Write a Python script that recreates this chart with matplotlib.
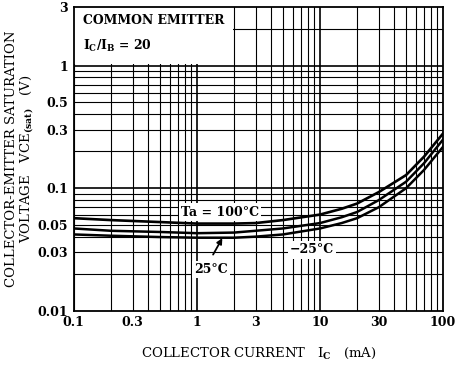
import matplotlib
matplotlib.use("Agg")
import matplotlib.pyplot as plt
from matplotlib.patches import Rectangle

# collector current (mA) and VCE(sat) (V)
ic = [0.1, 0.2, 0.5, 1, 2, 3, 5, 10, 15, 20, 30, 50, 70, 100]
vce_100 = [0.057, 0.055, 0.053, 0.0515, 0.0515, 0.052, 0.055, 0.061, 0.068, 0.075, 0.093, 0.128, 0.181, 0.28]
vce_25 = [0.047, 0.045, 0.044, 0.043, 0.0435, 0.045, 0.047, 0.052, 0.058, 0.064, 0.080, 0.113, 0.160, 0.25]
vce_m25 = [0.042, 0.041, 0.040, 0.0395, 0.0395, 0.0403, 0.042, 0.047, 0.052, 0.057, 0.070, 0.100, 0.141, 0.218]

x_ticks = [0.1, 0.3, 1, 3, 10, 30, 100]
x_labels = ['0.1', '0.3', '1', '3', '10', '30', '100']
y_ticks = [0.01, 0.03, 0.05, 0.1, 0.3, 0.5, 1, 3]
y_labels = ['0.01', '0.03', '0.05', '0.1', '0.3', '0.5', '1', '3']

plt.rcParams['font.family'] = ['DejaVu Serif']
plt.rcParams['font.weight'] = 'bold'
plt.rcParams['mathtext.fontset'] = 'custom'
plt.rcParams['mathtext.rm'] = 'DejaVu Serif:bold'
plt.rcParams['mathtext.it'] = 'DejaVu Serif:bold'

fig = plt.figure(figsize=(4.64, 3.71), dpi=100)
ax = fig.add_axes([0.159, 0.162, 0.796, 0.819])
ax.set_xscale('log')
ax.set_yscale('log')
ax.set_xlim(0.1, 100)
ax.set_ylim(0.01, 3)

# grid lines
xg = [m * 10.0 ** d for d in (-1, 0, 1) for m in range(1, 10)] + [100]
yg = [m * 10.0 ** d for d in (-2, -1) for m in range(1, 10)] + [1, 2]
for v in xg:
    lw = 1.2 if v in (1, 10) else 0.8
    ax.axvline(v, color='black', lw=lw, zorder=0.5)
for v in yg:
    lw = 1.2 if v in (0.1, 1) else 0.8
    ax.axhline(v, color='black', lw=lw, zorder=0.5)

# blank box for the conditions text
ax.add_patch(Rectangle((0.1, 1.03), 1.97 - 0.1, 3 - 1.03, facecolor='white',
                       edgecolor='none', zorder=1))
ax.text(0.118, 2.35, 'COMMON EMITTER', fontsize=8.9, va='center', ha='left', zorder=3)
ax.text(0.118, 1.45, r'I$_{\rm C}$/I$_{\rm B}$ = 20', fontsize=8.9, va='center', ha='left', zorder=3)

ax.plot(ic, vce_100, color='black', lw=1.9, zorder=2)
ax.plot(ic, vce_25, color='black', lw=1.8, zorder=2)
ax.plot(ic, vce_m25, color='black', lw=1.8, zorder=2)

box = dict(facecolor='white', edgecolor='none', pad=1.5)
ax.text(1.54, 0.064, 'Ta = 100°C', fontsize=9, ha='center', va='center', bbox=box, zorder=3)
ax.text(1.30, 0.0216, '25°C', fontsize=9, ha='center', va='center', bbox=box, zorder=3)
ax.text(8.6, 0.0314, '−25°C', fontsize=9, ha='center', va='center', bbox=box, zorder=3)
ax.annotate('', xy=(1.65, 0.041), xytext=(1.32, 0.0275),
            arrowprops=dict(arrowstyle='-|>', color='black', lw=1.3, mutation_scale=8),
            zorder=3)

ax.set_xticks(x_ticks)
ax.set_xticklabels(x_labels)
ax.set_yticks(y_ticks)
ax.set_yticklabels(y_labels)
ax.minorticks_off()
ax.tick_params(length=0, labelsize=9, pad=4)
for s in ax.spines.values():
    s.set_linewidth(1.3)
    s.set_zorder(2.5)

ax.set_xlabel(r'COLLECTOR CURRENT   I$_{\rm C}$   (mA)', fontsize=9.5, labelpad=12)
ax.set_ylabel('COLLECTOR-EMITTER SATURATION\n' + r'VOLTAGE   VCE$_{\rm (sat)}$   (V)',
              fontsize=9.5, linespacing=1.0, ha='center', va='center')
ax.yaxis.set_label_coords(-0.145, 0.5)

plt.savefig('out.png', dpi=100)
